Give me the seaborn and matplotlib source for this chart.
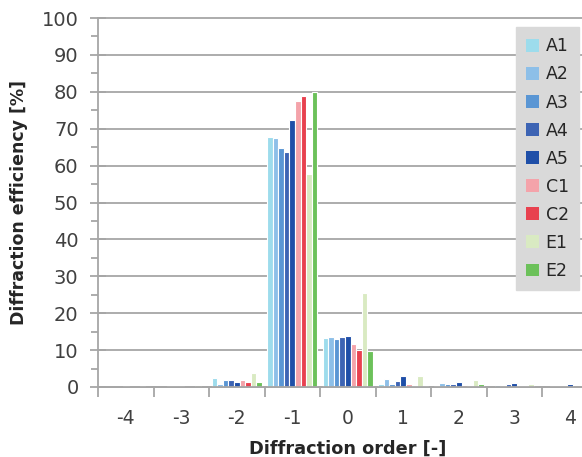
import matplotlib
matplotlib.use("Agg")
import matplotlib.pyplot as plt
import seaborn as sns
import pandas as pd
from matplotlib.patches import Patch
from matplotlib.ticker import MultipleLocator

orders = ["-4", "-3", "-2", "-1", "0", "1", "2", "3", "4"]
series = ["A1", "A2", "A3", "A4", "A5", "C1", "C2", "E1", "E2"]
colors = ["#9ddcec", "#8dbfe8", "#5a96d4", "#3d64b4", "#1f4fa8",
          "#f4a3aa", "#e8414f", "#d9eac2", "#6cc15a"]

A1 = [0.0, 0.0, 2.5, 67.7, 13.2, 0.9, 0.3, 0.1, 0.1]
A2 = [0.0, 0.0, 0.9, 67.5, 13.6, 2.1, 1.1, 0.5, 0.3]
A3 = [0.0, 0.3, 1.8, 64.7, 12.9, 0.9, 0.7, 0.3, 0.3]
A4 = [0.0, 0.3, 1.8, 63.6, 13.6, 1.5, 0.7, 0.7, 0.3]
A5 = [0.3, 0.3, 1.3, 72.3, 13.9, 3.1, 1.3, 1.0, 0.9]
C1 = [0.0, 0.0, 1.8, 77.5, 11.6, 0.9, 0.5, 0.3, 0.0]
C2 = [0.0, 0.0, 1.3, 78.8, 10.0, 0.4, 0.4, 0.3, 0.0]
E1 = [0.2, 0.6, 3.9, 57.7, 25.5, 3.1, 1.8, 0.8, 0.0]
E2 = [0.0, 0.0, 1.4, 80.0, 9.8, 0.3, 0.7, 0.0, 0.0]

values = {"A1": A1, "A2": A2, "A3": A3, "A4": A4, "A5": A5,
          "C1": C1, "C2": C2, "E1": E1, "E2": E2}

rows = []
for s in series:
    for o, v in zip(orders, values[s]):
        rows.append({"order": o, "series": s, "value": v})
df = pd.DataFrame(rows)

sns.set_style("white")
plt.rcParams["font.family"] = ["DejaVu Sans"]

fig = plt.figure(figsize=(5.82, 4.57), dpi=100)
ax = fig.add_axes([98 / 582, 70 / 457, 499.5 / 582, 369 / 457])

grid_c = "#a6a6a6"

sns.barplot(data=df, x="order", y="value", hue="series", order=orders,
            hue_order=series, palette=colors, width=0.9, gap=0,
            saturation=1, edgecolor="white", linewidth=0.8,
            ax=ax, legend=False)

ax.set_xlim(-0.5, 8.5)
ax.set_ylim(0, 100)
ax.yaxis.set_major_locator(MultipleLocator(10))
ax.yaxis.set_minor_locator(MultipleLocator(5))

for sp in ["top", "right"]:
    ax.spines[sp].set_visible(False)
ax.spines["left"].set_color(grid_c)
ax.spines["bottom"].set_color(grid_c)
ax.spines["left"].set_linewidth(1.3)
ax.spines["bottom"].set_linewidth(1.3)

# category boundary ticks on x
ax.set_xticks([i - 0.5 for i in range(10)], minor=True)
ax.tick_params(axis="x", which="major", length=0, pad=16,
               labelsize=13.5, labelcolor="#404040")
ax.tick_params(axis="x", which="minor", length=7, width=1.3, color=grid_c,
               direction="out", bottom=True)
ax.tick_params(axis="y", which="major", length=12, width=1.3, color=grid_c,
               direction="inout", pad=8, labelsize=14, labelcolor="#404040",
               left=True)
ax.tick_params(axis="y", which="minor", length=5, width=1.3, color=grid_c,
               direction="out", left=True)

ax.set_xlabel("Diffraction order [-]", fontsize=12.8, fontweight="bold",
              color="#262626", labelpad=8)
ax.set_ylabel("Diffraction efficiency [%]", fontsize=12.5, fontweight="bold",
              color="#262626", labelpad=10)

ax.set_axisbelow(True)
ax.grid(True, axis="y", which="major", color=grid_c, linewidth=1.3,
        linestyle="-")
ax.grid(False, axis="x")
for gl in ax.get_ygridlines():
    gl.set_clip_on(False)

handles = [Patch(facecolor=c, edgecolor="none", label=s)
           for s, c in zip(series, colors)]
leg = ax.legend(handles=handles, loc="upper left",
                bbox_to_anchor=(516 / 582, 1 - 27 / 457),
                bbox_transform=fig.transFigure, frameon=True,
                fontsize=12.5, handlelength=0.75, handleheight=0.75,
                handletextpad=0.35, labelspacing=0.58, borderpad=0.6,
                borderaxespad=0, fancybox=False)
leg.get_frame().set_facecolor("#d9d9d9")
leg.get_frame().set_edgecolor("#d9d9d9")
leg.get_frame().set_alpha(1)
for t in leg.get_texts():
    t.set_color("#262626")

fig.savefig("out.png", dpi=100)
